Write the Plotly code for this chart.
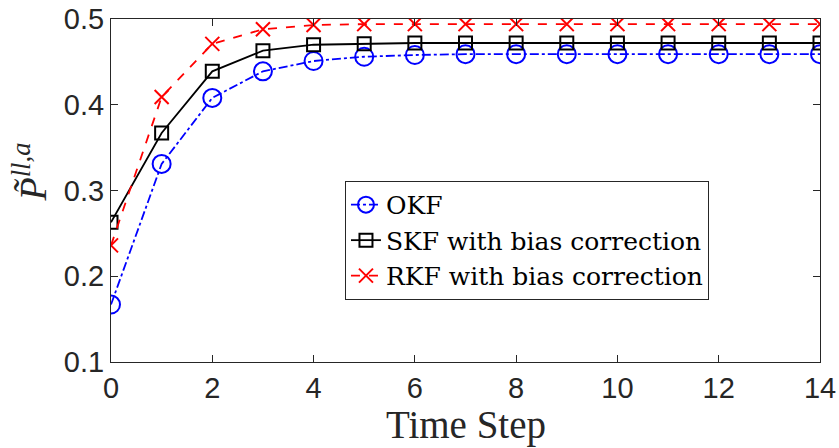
import plotly.graph_objects as go

steps = list(range(15))
okf = [0.167, 0.331, 0.408, 0.439, 0.451, 0.456, 0.458, 0.459, 0.459, 0.459, 0.459, 0.459, 0.459, 0.459, 0.459]
skf = [0.263, 0.367, 0.439, 0.463, 0.470, 0.471, 0.472, 0.472, 0.472, 0.472, 0.472, 0.472, 0.472, 0.472, 0.472]
rkf = [0.236, 0.409, 0.471, 0.488, 0.493, 0.494, 0.494, 0.494, 0.494, 0.494, 0.494, 0.494, 0.494, 0.494, 0.494]
x_ticks = [0, 2, 4, 6, 8, 10, 12, 14]
y_ticks = [0.1, 0.2, 0.3, 0.4, 0.5]

serif = "Liberation Serif, DejaVu Serif, serif"
legend_serif = "DejaVu Serif, Liberation Serif, serif"
sans = "Liberation Sans, Arial, sans-serif"

fig = go.Figure()
fig.add_trace(go.Scatter(
    x=steps, y=okf, name="OKF", mode="lines+markers",
    line=dict(color="#0000ff", width=1.8, dash="dashdot"),
    marker=dict(symbol="circle-open", size=18, color="#0000ff", line=dict(width=2, color="#0000ff")),
))
fig.add_trace(go.Scatter(
    x=steps, y=skf, name="SKF with bias correction", mode="lines+markers",
    line=dict(color="#000000", width=1.8),
    marker=dict(symbol="square-open", size=13, color="#000000", line=dict(width=2, color="#000000")),
))
fig.add_trace(go.Scatter(
    x=steps, y=rkf, name="RKF with bias correction", mode="lines+markers",
    line=dict(color="#ff0000", width=1.8, dash="dash"),
    marker=dict(symbol="x-thin-open", size=14, color="#ff0000", line=dict(width=2, color="#ff0000")),
))

axis_common = dict(
    showline=True, linecolor="#262626", linewidth=1, mirror="ticks",
    ticks="inside", ticklen=7, tickcolor="#262626", showgrid=False, zeroline=False,
    tickfont=dict(family=sans, size=29, color="#262626"), automargin=False,
)

fig.update_layout(
    width=839, height=448,
    margin=dict(l=111, r=19, t=19, b=86),
    paper_bgcolor="white", plot_bgcolor="white",
    xaxis=dict(range=[0, 14], tickvals=x_ticks, **axis_common),
    yaxis=dict(range=[0.1, 0.5], tickvals=y_ticks, tickformat=".1f", **axis_common),
    legend=dict(
        x=0.33, y=0.528, xanchor="left", yanchor="top",
        bgcolor="white", bordercolor="#262626", borderwidth=1,
        font=dict(family=legend_serif, size=25, color="#000000"),
        itemwidth=30, tracegroupgap=0,
    ),
    annotations=[
        dict(text="Time Step", xref="paper", yref="paper", x=0.5, y=0,
             xanchor="center", yanchor="middle", yshift=-63, showarrow=False,
             font=dict(family=serif, size=39, color="#262626")),
        dict(text="<i>P̃</i><sup><i>ll,a</i></sup>", xref="paper", yref="paper", x=0, y=0.5,
             xanchor="center", yanchor="middle", xshift=-81, yshift=18, textangle=-90, showarrow=False,
             font=dict(family=serif, size=38, color="#262626")),
    ],
)

fig.write_html("out.html", config={"displayModeBar": False},
               post_script="document.body.style.margin='0';document.body.style.overflow='hidden';")
